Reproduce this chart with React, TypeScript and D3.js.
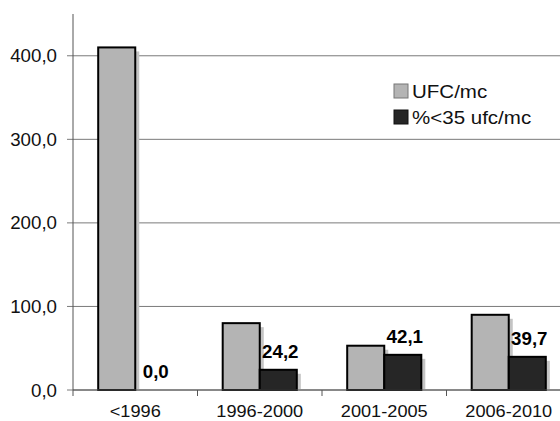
import React from 'react';
import * as d3 from 'd3';

const categories = ['<1996', '1996-2000', '2001-2005', '2006-2010'];
const seriesNames = ['UFC/mc', '%<35 ufc/mc'];
const ufcValues = [410, 80, 53, 90];
const pctValues = [0.0, 24.2, 42.1, 39.7];
const yTicks = [0, 100, 200, 300, 400];

const width = 560;
const height = 421;
const margin = { top: 14, right: -11, bottom: 31, left: 73 };
const colors = ['#b4b4b4', '#262626'];
const font = "'Liberation Sans', Arial, sans-serif";

const fmt = (v: number) => v.toFixed(1).replace('.', ',');

export default function App() {
  const x = d3
    .scaleBand<string>()
    .domain(categories)
    .range([margin.left, width - margin.right])
    .padding(0);

  const xSub = d3
    .scaleBand<string>()
    .domain(seriesNames)
    .range([0, x.bandwidth()])
    .paddingInner(0)
    .paddingOuter(0.68);

  const y = d3
    .scaleLinear()
    .domain([0, 450])
    .range([height - margin.bottom, margin.top]);

  const series = [ufcValues, pctValues];
  const y0 = y(0);
  const bw = xSub.bandwidth();

  return (
    <svg
      width={width}
      height={height}
      style={{ position: 'absolute', left: 0, top: 0, background: '#fff' }}
      fontFamily={font}
    >
      {/* griglia e tacche asse y */}
      {yTicks.map((t) => (
        <g key={t}>
          <line x1={margin.left - 6} x2={width} y1={y(t)} y2={y(t)} stroke="#7a7a7a" strokeWidth={1} />
          <text
            transform={`translate(57,${y(t) + 6.5}) scale(1.04,1)`}
            textAnchor="end"
            fontSize={18}
            fill="#111"
          >
            {fmt(t)}
          </text>
        </g>
      ))}
      <line x1={margin.left} x2={margin.left} y1={margin.top} y2={y0 + 6} stroke="#555" strokeWidth={1} />
      {categories.slice(1).map((c) => (
        <line key={c} x1={x(c)!} x2={x(c)!} y1={y0} y2={y0 + 6} stroke="#555" strokeWidth={1} />
      ))}

      {/* barre */}
      {series.map((vals, si) =>
        vals.map((v, i) => {
          const bx = x(categories[i])! + xSub(seriesNames[si])!;
          const by = y(v);
          return (
            <g key={`${si}-${i}`}>
              {v > 0 && (
                <rect x={bx + 4} y={by + 4} width={bw} height={Math.max(0, y0 - by - 4)} fill="#c4c4c4" />
              )}
              {v > 0 && (
                <rect x={bx} y={by} width={bw} height={y0 - by} fill={colors[si]} stroke="#000" strokeWidth={2} />
              )}
            </g>
          );
        })
      )}
      <line x1={margin.left} x2={width} y1={y0} y2={y0} stroke="#555" strokeWidth={1} />

      {/* etichette valori */}
      {pctValues.map((v, i) => {
        const cx = x(categories[i])! + xSub(seriesNames[1])! + bw / 2 + 2;
        return (
          <text
            key={i}
            transform={`translate(${cx},${y(v) - 12}) scale(1.04,1)`}
            textAnchor="middle"
            fontSize={18}
            fontWeight="bold"
            fill="#000"
          >
            {fmt(v)}
          </text>
        );
      })}

      {/* etichette asse x */}
      {categories.map((c) => (
        <text
          key={c}
          transform={`translate(${x(c)! + x.bandwidth() / 2},${y0 + 27}) scale(1.07,1)`}
          textAnchor="middle"
          fontSize={17}
          fill="#111"
        >
          {c}
        </text>
      ))}

      {/* legenda */}
      {seriesNames.map((s, i) => (
        <g key={s} transform={`translate(394,${84 + i * 26})`}>
          <rect x={0} y={0} width={14} height={14} fill={colors[i]} stroke={i === 0 ? '#777' : '#111'} strokeWidth={1} />
          <text transform="translate(18,14) scale(1.14,1)" fontSize={18} fill="#111">
            {s}
          </text>
        </g>
      ))}
    </svg>
  );
}
